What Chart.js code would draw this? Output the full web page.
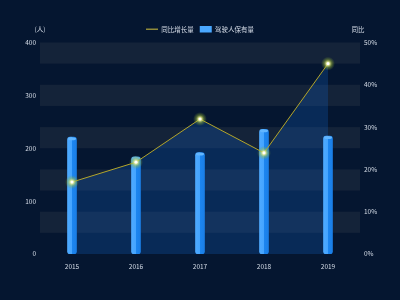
<!DOCTYPE html>
<html><head><meta charset="utf-8">
<script src="https://cdn.jsdelivr.net/npm/chart.js@4/dist/chart.umd.min.js"></script>
<style>html,body{margin:0;padding:0;background:#051630;}canvas{display:block;}</style>
</head><body>
<canvas id="c" width="400" height="300"></canvas>
<script>
const years = ['2015','2016','2017','2018','2019'];
const drivers = [221, 184, 192, 236, 223];
const growth = [17.0, 21.7, 31.9, 23.9, 45.0];
const leftTicks = [0,100,200,300,400];
const rightTicks = [0,10,20,30,40,50];
const bandRanges = [[360,400],[280,320],[200,240],[120,160],[40,80]];
const FONT = '"Noto Sans CJK SC", "Noto Sans", sans-serif';
const TXT = '#d6dde8';

const bgPlugin = {
  id:'bands',
  beforeDraw(chart){
    const {ctx, chartArea:a, scales:{y}} = chart;
    ctx.save();
    ctx.fillStyle = '#051630';
    ctx.fillRect(0,0,chart.width,chart.height);
    ctx.fillStyle = '#142339';
    bandRanges.forEach(([lo,hi])=>{
      const t = y.getPixelForValue(hi), b = y.getPixelForValue(lo);
      ctx.fillRect(a.left, t, a.right-a.left, b-t);
    });
    ctx.restore();
  },
  afterDatasetsDraw(chart){
    const ctx = chart.ctx;
    const bm = chart.getDatasetMeta(1);
    ctx.save();
    bm.data.forEach(el=>{
      ctx.beginPath();
      ctx.ellipse(el.x, el.y+1.5, 4, 1.5, 0, 0, Math.PI*2);
      ctx.fillStyle = '#62b6ff';
      ctx.fill();
    });
    const lm = chart.getDatasetMeta(0);
    lm.data.forEach(p=>{
      const g = ctx.createRadialGradient(p.x,p.y,0,p.x,p.y,7);
      g.addColorStop(0,'rgba(255,255,235,1)');
      g.addColorStop(0.25,'rgba(235,240,150,0.9)');
      g.addColorStop(0.55,'rgba(170,200,60,0.45)');
      g.addColorStop(1,'rgba(120,160,40,0)');
      ctx.fillStyle = g;
      ctx.beginPath(); ctx.arc(p.x,p.y,7,0,Math.PI*2); ctx.fill();
      ctx.fillStyle = '#ffffff';
      ctx.beginPath(); ctx.arc(p.x,p.y,1.4,0,Math.PI*2); ctx.fill();
    });
    const a = chart.chartArea;
    ctx.font = '6.5px ' + FONT;
    ctx.fillStyle = TXT;
    ctx.textAlign = 'center';
    ctx.textBaseline = 'middle';
    ctx.fillText('(人)', a.left, 30);
    ctx.fillText('同比', a.right-2, 30);
    ctx.restore();
  }
};

function barGradient(c){
  const chart = c.chart;
  if (!chart.chartArea || !chart.scales.x) return '#3a9cff';
  const x = chart.scales.x.getPixelForValue(c.dataIndex);
  const g = chart.ctx.createLinearGradient(x-4.5,0,x+4.5,0);
  g.addColorStop(0,'#4eaaff');
  g.addColorStop(0.5,'#44a4ff');
  g.addColorStop(0.5,'#1d86f0');
  g.addColorStop(1,'#1a7ee6');
  return g;
}

new Chart(document.getElementById('c'), {
  type:'bar',
  data:{
    labels: years,
    datasets:[
      {type:'line', label:'同比增长量', data:growth, yAxisID:'y1', order:0,
       borderColor:'#b3a52a', borderWidth:1, pointRadius:0, pointHoverRadius:0,
       tension:0, fill:'origin', backgroundColor:'rgba(20,100,200,0.26)'},
      {type:'bar', label:'驾驶人保有量', data:drivers, yAxisID:'y', order:1,
       backgroundColor:barGradient, barThickness:9, borderSkipped:false,
       borderRadius:3}
    ]
  },
  options:{
    responsive:false, animation:false,
    layout:{padding:{top:20,left:0,right:0,bottom:0}},
    plugins:{
      filler:{drawTime:'beforeDatasetsDraw'},
      tooltip:{enabled:false},
      legend:{
        position:'top',
        labels:{
          usePointStyle:true, pointStyleWidth:12, boxHeight:7,
          padding:6, color:TXT, font:{size:6.5, family:FONT},
          generateLabels(){
            return [
              {text:'同比增长量', pointStyle:'line', strokeStyle:'#8f8a3a', fillStyle:'#8f8a3a', lineWidth:1.5, datasetIndex:0, hidden:false, fontColor:TXT},
              {text:'驾驶人保有量', pointStyle:'rect', strokeStyle:'#4aa8ff', fillStyle:'#4aa8ff', lineWidth:0, datasetIndex:1, hidden:false, fontColor:TXT}
            ];
          }
        }
      }
    },
    scales:{
      x:{
        grid:{display:false, drawTicks:false}, border:{display:false},
        ticks:{color:TXT, font:{size:6.5, family:FONT}, padding:9},
        afterFit(s){ s.height = 46; }
      },
      y:{
        position:'left', min:0, max:400,
        grid:{display:false, drawTicks:false}, border:{display:false},
        afterBuildTicks(s){ s.ticks = leftTicks.map(v=>({value:v})); },
        ticks:{color:TXT, font:{size:6.5, family:FONT}, padding:4},
        afterFit(s){ s.width = 40; }
      },
      y1:{
        position:'right', min:0, max:50,
        grid:{display:false, drawTicks:false}, border:{display:false},
        afterBuildTicks(s){ s.ticks = rightTicks.map(v=>({value:v})); },
        ticks:{color:TXT, font:{size:6.5, family:FONT}, padding:4, callback:v=>v+'%'},
        afterFit(s){ s.width = 40; }
      }
    }
  },
  plugins:[bgPlugin]
});
</script>
</body></html>
